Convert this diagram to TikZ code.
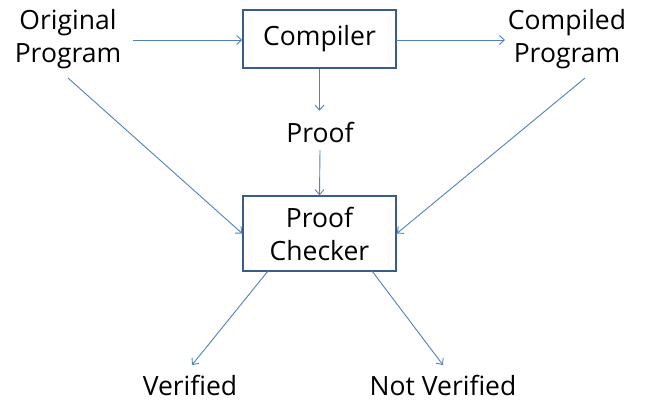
\documentclass[tikz,border=0pt]{standalone}
\usepackage{fontspec}
\setmainfont{Open Sans}
\usetikzlibrary{arrows.meta}
\definecolor{boxblue}{RGB}{56,93,138}
\definecolor{arrblue}{RGB}{79,129,189}
\begin{document}
\begin{tikzpicture}[x=1pt,y=-1pt,
  lbl/.style={font=\fontsize{26.5}{33}\selectfont, align=center, inner sep=0pt},
  box/.style={draw=boxblue, line width=1.5pt, minimum width=153pt, inner sep=0pt},
  arr/.style={draw=arrblue, line width=0.9pt, -{Straight Barb[length=5pt,width=9pt]}}]
\useasboundingbox (0,0) rectangle (652,401);
\node[box, lbl, minimum height=58pt] (comp) at (319.5,39) {Compiler};
\node[box, lbl, minimum height=75pt] (check) at (319.5,233.5) {Proof\\Checker};
\node[lbl] (orig) at (68,39) {Original\\Program};
\node[lbl] (compd) at (567,39) {Compiled\\Program};
\node[lbl] (proof) at (320,132) {Proof};
\node[lbl] (ver) at (190,385) {Verified};
\node[lbl] (nver) at (443,385) {Not Verified};
\coordinate (o1) at (133,40);
\coordinate (c1) at (396,40);
\coordinate (c2) at (505,40);
\draw[arr] (o1) -- (comp.west |- o1);
\draw[arr] (c1) -- (c2);
\draw[arr] (comp.south) -- ++(0,42);
\draw[arr] (320,150) -- (check.north);
\coordinate (ob) at (68,78);
\coordinate (cb) at (585,78);
\draw[arr] (ob) -- (check.west);
\draw[arr] (cb) -- (check.east);
\coordinate (v1) at (268,271);
\coordinate (v2) at (192,365);
\coordinate (n1) at (372,271);
\coordinate (n2) at (443,365);
\draw[arr] (v1) -- (v2);
\draw[arr] (n1) -- (n2);
\end{tikzpicture}
\end{document}
